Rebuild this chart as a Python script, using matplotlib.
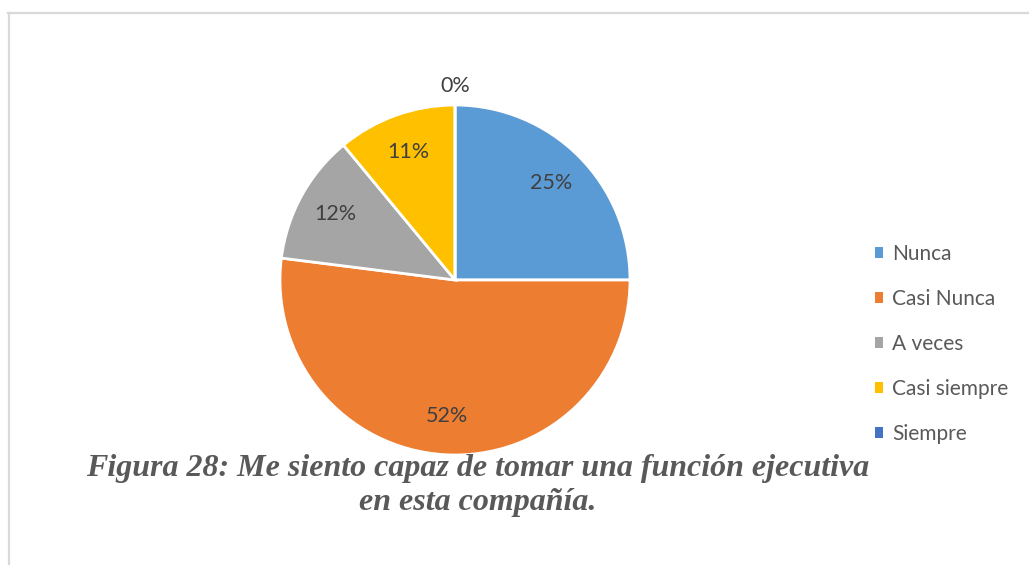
import numpy as np
import matplotlib.pyplot as plt
from matplotlib.lines import Line2D
from matplotlib.patches import Patch

# datos del gráfico
categorias = ['Nunca', 'Casi Nunca', 'A veces', 'Casi siempre', 'Siempre']
porcentajes = [25, 52, 12, 11, 0]
colores = ['#5B9BD5', '#ED7D31', '#A5A5A5', '#FFC000', '#4472C4']
titulo = 'Figura 28: Me siento capaz de tomar una función ejecutiva\nen esta compañía.'

W, H = 1029, 565
fig = plt.figure(figsize=(W / 100, H / 100), dpi=100)

# marco gris claro (arriba e izquierda)
fig.add_artist(Line2D([8 / W, 1], [1 - 13 / H, 1 - 13 / H], color='#D9D9D9', lw=1.6,
                      transform=fig.transFigure))
fig.add_artist(Line2D([8.5 / W, 8.5 / W], [0, 1 - 13 / H], color='#D9D9D9', lw=1.6,
                      transform=fig.transFigure))

# pastel: centro (455, 280) px, radio 175 px
cx, cy, r = 455, 280, 175
ax = fig.add_axes([(cx - r) / W, 1 - (cy + r) / H, 2 * r / W, 2 * r / H])
wedges, texts, autotexts = ax.pie(
    porcentajes, colors=colores, startangle=90, counterclock=False,
    autopct=lambda p: f'{p:.0f}%', pctdistance=0.78, radius=1,
    wedgeprops=dict(edgecolor='white', linewidth=2),
    textprops=dict(fontsize=15.5, color='#404040', family=['Lato', 'DejaVu Sans']))
ax.set_xlim(-1, 1)
ax.set_ylim(-1, 1)
ax.set_aspect('equal')

# etiqueta del 0% fuera del pastel
w = wedges[-1]
ang = np.deg2rad((w.theta1 + w.theta2) / 2)
autotexts[-1].set_position((1.11 * np.cos(ang), 1.11 * np.sin(ang)))

# leyenda
handles = [Patch(facecolor=c, edgecolor='none') for c in colores]
fig.legend(handles, categorias, loc='upper left', bbox_to_anchor=(875 / W, 1 - 244 / H),
           frameon=False, handlelength=0.38, handleheight=0.38, handletextpad=0.45,
           labelspacing=1.2, prop=dict(family='Lato', size=15), labelcolor='#595959',
           borderaxespad=0, borderpad=0)

# título abajo
fig.text(478 / W, 1 - 485.5 / H, titulo, ha='center', va='center', fontsize=23,
         family='Liberation Serif', weight='bold', style='italic', color='#595959',
         linespacing=1.25)

fig.savefig('out.png', dpi=100)
